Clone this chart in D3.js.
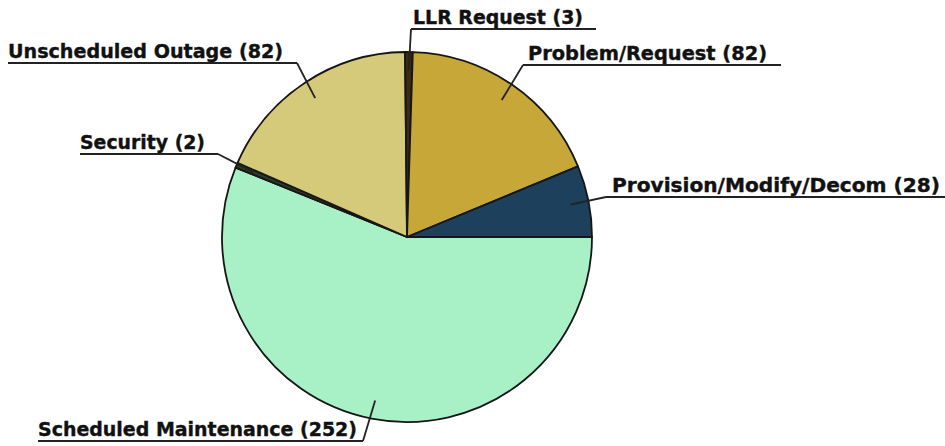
<!DOCTYPE html>
<html><head><meta charset="utf-8">
<script src="https://cdn.jsdelivr.net/npm/d3@7"></script>
<style>body{margin:0;background:#fff}svg{display:block}</style>
</head><body>
<svg id="c" width="945" height="446"></svg>
<script>
const categories = ["Scheduled Maintenance","Security","Unscheduled Outage","LLR Request","Problem/Request","Provision/Modify/Decom"];
const values = [252, 2, 82, 3, 82, 28];
const colors = ["#a8f1c6","#2d3a2a","#d5c97a","#3b2a14","#c6a738","#1d405c"];

// label layout: text left x, baseline y, text width, underline y, underline extent [x0,x1], knee x
const labelLayout = [
  {x:38,  y:436, w:319, uy:441, u0:38,  u1:363, knee:363},
  {x:80,  y:149, w:125, uy:154, u0:80,  u1:218, knee:218},
  {x:8,   y:58,  w:275, uy:63,  u0:8,   u1:297, knee:297},
  {x:413, y:24,  w:170, uy:29,  u0:411, u1:596, knee:411},
  {x:528, y:60,  w:239, uy:65,  u0:523, u1:781, knee:523},
  {x:612, y:192, w:328, uy:197, u0:606, u1:945, knee:606}
];

const svg = d3.select("#c");
const cx = 407, cy = 237, R = 185;
const start = Math.PI/2;
const pie = d3.pie().sort(null).startAngle(start).endAngle(start + 2*Math.PI);
const arcs = pie(values);
const arc = d3.arc().innerRadius(0).outerRadius(R);
const g = svg.append("g").attr("transform", `translate(${cx},${cy})`);
g.selectAll("path").data(arcs).join("path")
  .attr("d", arc)
  .attr("fill", (d,i)=>colors[i])
  .attr("stroke", "#161616").attr("stroke-width", 1.8).attr("stroke-linejoin","round");

arcs.forEach((a,i)=>{
  const L = labelLayout[i];
  const mid = (a.startAngle + a.endAngle)/2;
  const px = cx + 0.9*R*Math.sin(mid), py = cy - 0.9*R*Math.cos(mid);
  svg.append("polyline")
    .attr("points", `${L.u0},${L.uy} ${L.u1},${L.uy}`)
    .attr("fill","none").attr("stroke","#222").attr("stroke-width",2);
  svg.append("polyline")
    .attr("points", `${L.knee},${L.uy} ${px},${py}`)
    .attr("fill","none").attr("stroke","#222").attr("stroke-width",1.8);
  svg.append("text")
    .attr("x", L.x).attr("y", L.y)
    .attr("font-family","DejaVu Sans").attr("font-weight","bold").attr("font-size",20)
    .attr("fill","#111").attr("stroke","#111").attr("stroke-width",0.4)
    .attr("textLength", L.w).attr("lengthAdjust","spacingAndGlyphs")
    .text(`${categories[i]} (${values[i]})`);
});
</script>
</body></html>
